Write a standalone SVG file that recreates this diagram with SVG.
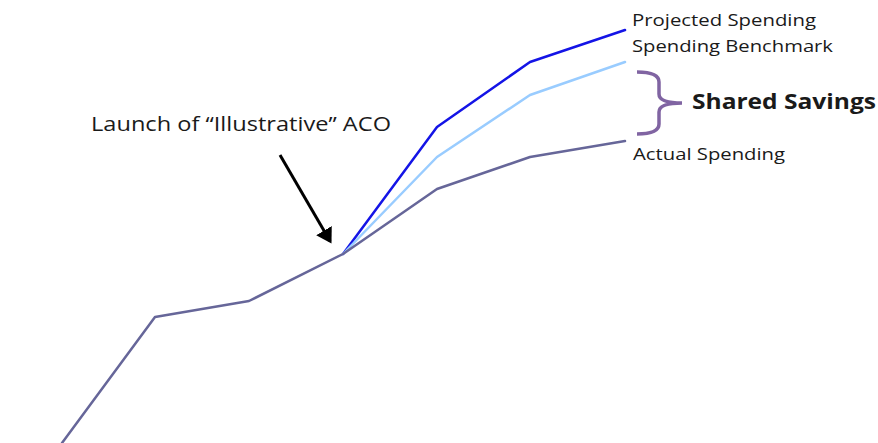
<svg xmlns="http://www.w3.org/2000/svg" width="878" height="443" viewBox="0 0 878 443">
<style>
.ln{fill:none;stroke-width:2.5;stroke-linejoin:round;stroke-linecap:round}
.t{font-family:"Open Sans","Liberation Sans",sans-serif;fill:#1a1a1a}
</style>
<defs>
<marker id="ah" markerWidth="6" markerHeight="6" refX="4" refY="3" orient="auto" markerUnits="strokeWidth">
<path d="M0,0 L5,3 L0,6 Z" fill="#000"/>
</marker>
</defs>
<rect width="878" height="443" fill="#fff"/>
<g id="connectors">
<polyline id="projected" class="ln" stroke="#1414E6" points="343,254 437,127 530,62 625,30"/>
<polyline id="benchmark" class="ln" stroke="#99CCFF" points="343,254 437,157 530,95 625,62"/>
<polyline id="actual" class="ln" stroke="#666699" points="62,443 155,317 249,301 343,254 437,189 530,157 625,141"/>
<line id="arrow" x1="280" y1="155" x2="330" y2="241" stroke="#000" stroke-width="3" marker-end="url(#ah)"/>
</g>
<g id="launch-label"><text class="t" x="91" y="131" font-size="20.5" textLength="300" lengthAdjust="spacingAndGlyphs">Launch of “Illustrative” ACO</text></g>
<g id="projected-label"><text class="t" x="632" y="26" font-size="16.5" textLength="184" lengthAdjust="spacingAndGlyphs">Projected Spending</text></g>
<g id="benchmark-label"><text class="t" x="632" y="52" font-size="16.5" textLength="201" lengthAdjust="spacingAndGlyphs">Spending Benchmark</text></g>
<g id="actual-label"><text class="t" x="633" y="160" font-size="16.5" textLength="152" lengthAdjust="spacingAndGlyphs">Actual Spending</text></g>
<g id="shared-savings">
<path d="M637,72 Q659,72 659,82 L659,94 Q659,103 682,103 Q659,103 659,112 L659,124 Q659,134 637,134" fill="none" stroke="#8064A2" stroke-width="3.5"/>
<text class="t" x="692" y="109" font-size="21" font-weight="bold" textLength="184" lengthAdjust="spacingAndGlyphs">Shared Savings</text>
</g>
</svg>
